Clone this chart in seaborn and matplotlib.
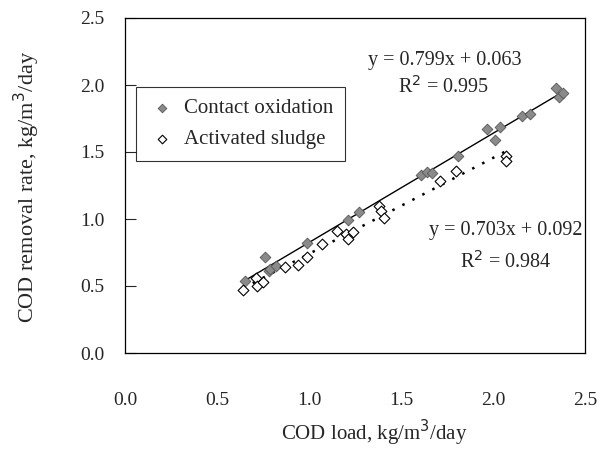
import seaborn as sns
import matplotlib.pyplot as plt
import pandas as pd

# Data
contact_x = [0.65, 0.76, 0.78, 0.79, 0.82, 0.99, 1.21, 1.27, 1.61, 1.64, 1.67,
             1.81, 1.97, 2.01, 2.04, 2.16, 2.20, 2.34, 2.36, 2.38]
contact_y = [0.54, 0.72, 0.61, 0.63, 0.65, 0.82, 0.99, 1.05, 1.33, 1.35, 1.34,
             1.47, 1.67, 1.59, 1.69, 1.77, 1.78, 1.98, 1.91, 1.94]
sludge_x = [0.64, 0.71, 0.72, 0.75, 0.87, 0.94, 0.99, 1.07, 1.15, 1.20, 1.21,
            1.24, 1.38, 1.39, 1.41, 1.71, 1.80, 2.07, 2.07]
sludge_y = [0.47, 0.56, 0.50, 0.53, 0.64, 0.66, 0.72, 0.81, 0.91, 0.89, 0.85,
            0.90, 1.10, 1.06, 1.01, 1.28, 1.36, 1.47, 1.43]
series_names = ['Contact oxidation', 'Activated sludge']

df = pd.concat([
    pd.DataFrame({'load': contact_x, 'removal': contact_y, 'Process': series_names[0]}),
    pd.DataFrame({'load': sludge_x, 'removal': sludge_y, 'Process': series_names[1]}),
])

sns.set_style('ticks')
plt.rcParams['font.family'] = ['Liberation Serif', 'DejaVu Serif']

fig = plt.figure(figsize=(5.99, 4.55), dpi=100)
ax = fig.add_axes([125 / 599, 1 - 353 / 455, 460 / 599, 335 / 455])

# trend lines
sns.regplot(data=df[df.Process == series_names[0]], x='load', y='removal', ax=ax,
            scatter=False, ci=None, truncate=True,
            line_kws=dict(color='black', lw=1.0))
sns.regplot(data=df[df.Process == series_names[1]], x='load', y='removal', ax=ax,
            scatter=False, ci=None, truncate=True,
            line_kws=dict(color='black', lw=1.8, linestyle=(0, (1, 3.5))))

# points
ax.scatter(contact_x, contact_y, marker='D', s=30, facecolor='#8a8a8a',
           edgecolor='#555555', linewidth=0.6, zorder=3, label=series_names[0])
ax.scatter(sludge_x, sludge_y, marker='D', s=30, facecolor='white',
           edgecolor='black', linewidth=0.8, zorder=3, label=series_names[1])

ax.set_xlim(0, 2.5)
ax.set_ylim(0, 2.5)
ax.set_xticks([0, 0.5, 1.0, 1.5, 2.0, 2.5])
ax.set_yticks([0, 0.5, 1.0, 1.5, 2.0, 2.5])
ax.set_xticklabels(['0.0', '0.5', '1.0', '1.5', '2.0', '2.5'])
ax.set_yticklabels(['0.0', '0.5', '1.0', '1.5', '2.0', '2.5'])
ax.tick_params(axis='y', direction='in', length=8, width=0.8, pad=15, labelsize=14)
ax.tick_params(axis='x', direction='in', length=0, pad=28, labelsize=14)
for s in ax.spines.values():
    s.set_linewidth(0.9)
    s.set_color('black')

ax.set_xlabel('')
ax.set_ylabel('')
fig.text(374 / 599, 1 - 433 / 455, 'COD load, kg/m$^3$/day', ha='center', va='center',
         fontsize=15)
fig.text(27 / 599, 1 - 187 / 455, 'COD removal rate, kg/m$^3$/day', ha='center',
         va='center', rotation=90, fontsize=16)

ax.text(445 / 599, 1 - 61 / 455, 'y = 0.799x + 0.063', transform=fig.transFigure,
        ha='center', va='center', fontsize=14.5)
ax.text(444 / 599, 1 - 87 / 455, 'R$^2$ = 0.995', transform=fig.transFigure,
        ha='center', va='center', fontsize=14.5)
ax.text(506 / 599, 1 - 230 / 455, 'y = 0.703x + 0.092', transform=fig.transFigure,
        ha='center', va='center', fontsize=14.5)
ax.text(506 / 599, 1 - 262 / 455, 'R$^2$ = 0.984', transform=fig.transFigure,
        ha='center', va='center', fontsize=14.5)

leg = ax.legend(loc='upper left', bbox_to_anchor=((136 - 125) / 460, (353 - 87) / 335),
                borderaxespad=0, fancybox=False, edgecolor='black', fontsize=15,
                handletextpad=0.35, handlelength=1.4, borderpad=0.55, labelspacing=0.55,
                markerscale=0.8)
leg.get_frame().set_linewidth(0.8)

fig.savefig('out.png', dpi=100)
